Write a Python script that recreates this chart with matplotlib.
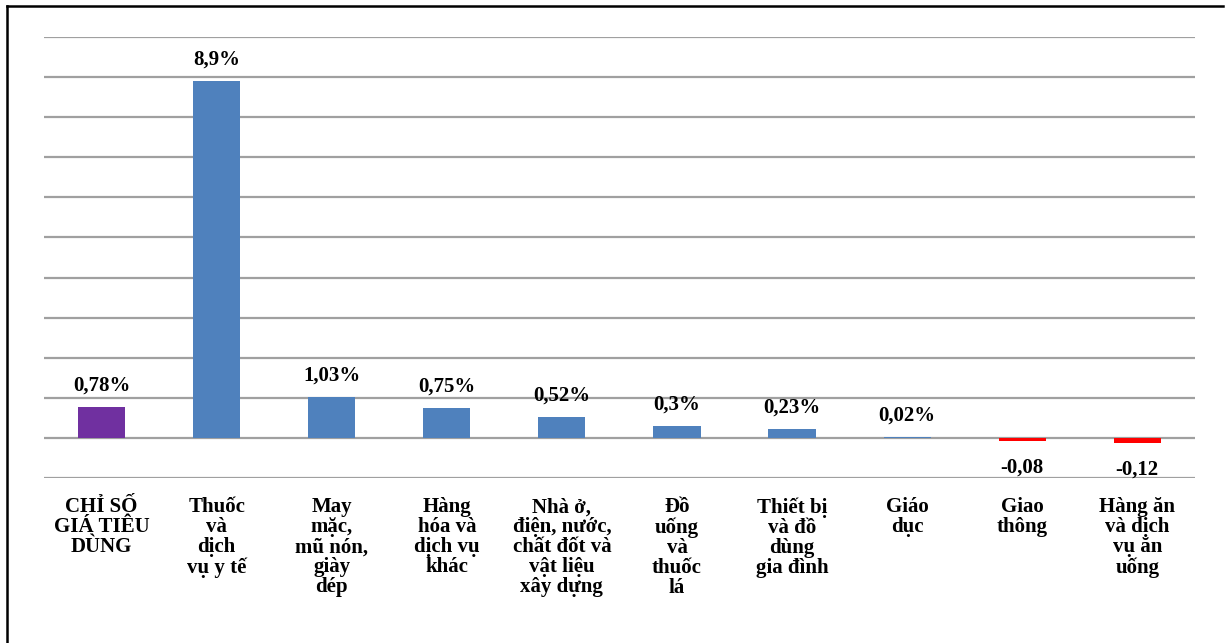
import matplotlib.pyplot as plt
from matplotlib.lines import Line2D

plt.rcParams['font.family'] = ['Liberation Serif', 'DejaVu Serif']

categories = ['CHỈ SỐ\nGIÁ TIÊU\nDÙNG', 'Thuốc\nvà\ndịch\nvụ y tế',
              'May\nmặc,\nmũ nón,\ngiày\ndép', 'Hàng\nhóa và\ndịch vụ\nkhác',
              'Nhà ở,\nđiện, nước,\nchất đốt và\nvật liệu\nxây dựng',
              'Đồ\nuống\nvà\nthuốc\nlá', 'Thiết bị\nvà đồ\ndùng\ngia đình',
              'Giáo\ndục', 'Giao\nthông', 'Hàng ăn\nvà dịch\nvụ ăn\nuống']
values = [0.78, 8.9, 1.03, 0.75, 0.52, 0.3, 0.23, 0.02, -0.08, -0.12]
labels = ['0,78%', '8,9%', '1,03%', '0,75%', '0,52%', '0,3%', '0,23%', '0,02%', '-0,08', '-0,12']
colors = ['#7030A0'] + ['#4F81BD'] * 7 + ['#FF0000'] * 2

fig = plt.figure(figsize=(12.28, 6.43), dpi=100)
ax = fig.add_axes([0.0358, 0.2566, 0.9372, 0.6859])

x = range(len(values))
ax.bar(x, values, width=0.41, color=colors, zorder=3)

for i, v in enumerate(values):
    if v >= 0:
        ax.annotate(labels[i], (i, v), xytext=(0, 8), textcoords='offset points',
                    ha='center', va='bottom', fontsize=15, fontweight='bold')
    else:
        ax.annotate(labels[i], (i, v), xytext=(0, -12), textcoords='offset points',
                    ha='center', va='top', fontsize=15, fontweight='bold')

ax.set_xlim(-0.5, len(values) - 0.5)
ax.set_ylim(-1, 10)
ax.set_yticks(range(-1, 11))
ax.yaxis.grid(True, color='#a0a0a0', linewidth=1.6, zorder=0)
ax.tick_params(axis='y', length=0, labelleft=False)
ax.tick_params(axis='x', length=0, pad=14)
ax.set_xticks(list(x))
ax.set_xticklabels(categories, fontsize=15, fontweight='bold', linespacing=1.0, va='top')
for s in ax.spines.values():
    s.set_visible(False)

# khung viền
fig.add_artist(Line2D([7 / 1228, 7 / 1228], [0, 1 - 6 / 643], color='black', linewidth=1.8))
fig.add_artist(Line2D([7 / 1228, 1223 / 1228], [1 - 6 / 643, 1 - 6 / 643], color='black', linewidth=1.8))

plt.savefig('out.png', dpi=100)
